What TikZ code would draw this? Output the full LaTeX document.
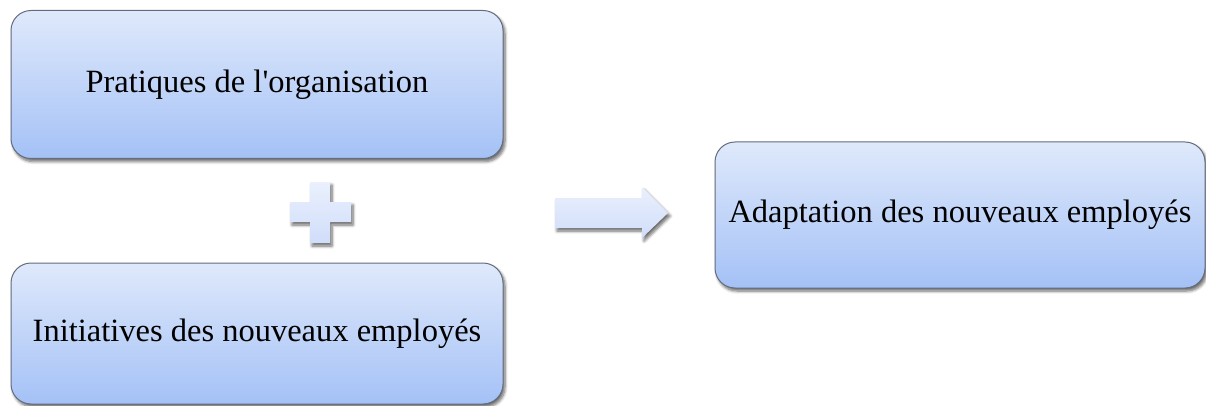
\documentclass[tikz,border=0pt]{standalone}
\usepackage{fontspec}
\newfontfamily\boxfont{Liberation Serif}
\usetikzlibrary{shadows.blur}

\definecolor{boxtop}{RGB}{223,233,251}
\definecolor{boxbot}{RGB}{164,193,246}
\definecolor{boxline}{RGB}{100,108,126}
\definecolor{signtop}{RGB}{234,240,253}
\definecolor{signbot}{RGB}{208,221,250}

\begin{document}
\begin{tikzpicture}[x=1pt,y=-1pt,
  softshadow/.style={blur shadow={shadow xshift=2pt, shadow yshift=-3pt,
      shadow blur steps=6, shadow blur radius=3pt, shadow opacity=60}},
  blockbox/.style={draw=boxline, line width=1pt, rounded corners=20pt,
      top color=boxtop, bottom color=boxbot, softshadow,
      font=\boxfont\fontsize{32.5}{38}\selectfont, inner sep=0pt, align=center},
  sign/.style={draw=none, top color=signtop, bottom color=signbot, softshadow}]

\useasboundingbox (0,0) rectangle (1206,406);

% the three text blocks
\node[blockbox, minimum width=492pt, minimum height=148pt] (org) at (257,84.5)
  {Pratiques de l'organisation};
\node[blockbox, minimum width=492pt, minimum height=141pt] (init) at (257,333.5)
  {Initiatives des nouveaux employés};
\node[blockbox, minimum width=490pt, minimum height=146pt] (adapt) at (960,215)
  {Adaptation des nouveaux employés};

% plus sign between the two left blocks
\coordinate (plus) at (320,212);
\path[sign] ([shift={(-10,-30)}]plus) -- ([shift={(10,-30)}]plus)
  -- ([shift={(10,-10)}]plus) -- ([shift={(31,-10)}]plus)
  -- ([shift={(31,10)}]plus) -- ([shift={(10,10)}]plus)
  -- ([shift={(10,31)}]plus) -- ([shift={(-10,31)}]plus)
  -- ([shift={(-10,10)}]plus) -- ([shift={(-30,10)}]plus)
  -- ([shift={(-30,-10)}]plus) -- ([shift={(-10,-10)}]plus) -- cycle;

% block arrow towards the result
\coordinate (tail) at (555,213);
\coordinate (tip) at (668,213);
\path[sign] ([shift={(0,-15)}]tail) -- ([shift={(-26,-15)}]tip)
  -- ([shift={(-26,-26)}]tip) -- (tip)
  -- ([shift={(-26,25)}]tip) -- ([shift={(-26,15)}]tip)
  -- ([shift={(0,15)}]tail) -- cycle;

\end{tikzpicture}
\end{document}
